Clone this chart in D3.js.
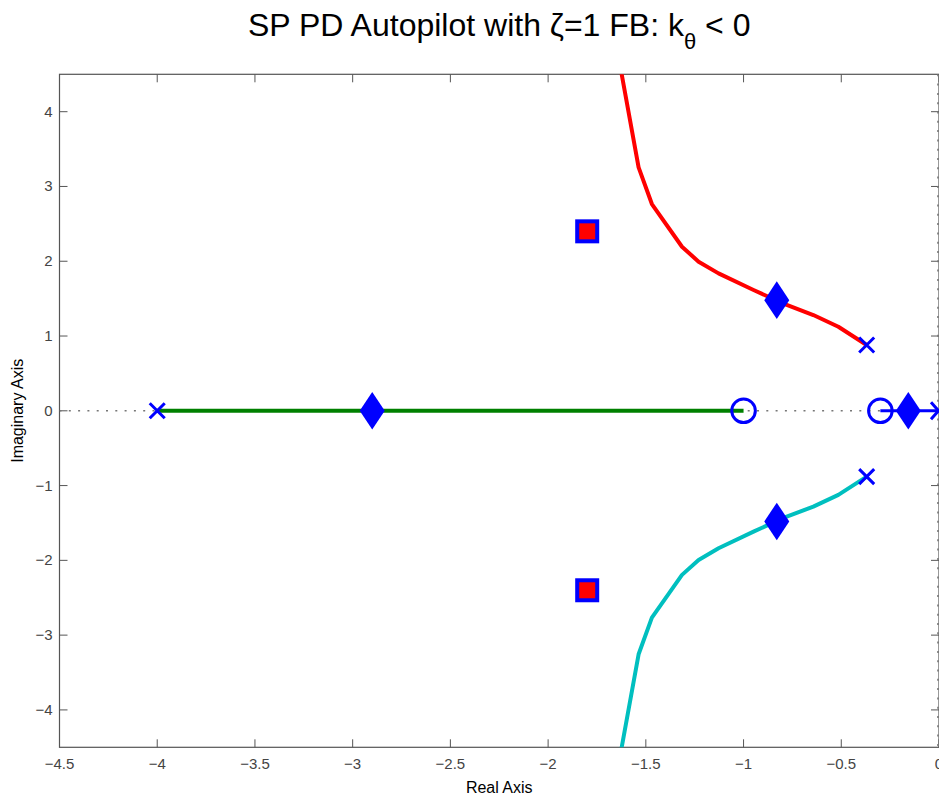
<!DOCTYPE html>
<html>
<head>
<meta charset="utf-8">
<script src="https://cdn.jsdelivr.net/npm/d3@7"></script>
<style>
  body { margin: 0; background: #fff; }
  svg { display: block; font-family: "Liberation Sans", Arial, Helvetica, sans-serif; }
</style>
</head>
<body>
<svg id="chart" width="939" height="796"></svg>
<script>
// tick values / labels
const xTicks = [-4.5, -4, -3.5, -3, -2.5, -2, -1.5, -1, -0.5, 0]
const xTickLabels = ['−4.5', '−4', '−3.5', '−3', '−2.5', '−2', '−1.5', '−1', '−0.5', '0']
const yTicks = [-4, -3, -2, -1, 0, 1, 2, 3, 4]
const yTickLabels = ['−4', '−3', '−2', '−1', '0', '1', '2', '3', '4']

// root locus branches [re, im]
const branchUpper = [[-0.37, 0.88], [-0.515, 1.124], [-0.643, 1.281], [-0.779, 1.415], [-0.949, 1.615],
  [-1.128, 1.838], [-1.23, 1.994], [-1.315, 2.194], [-1.469, 2.765], [-1.537, 3.256], [-1.70, 5.6]]
const branchLower = [[-0.37, -0.88], [-0.515, -1.124], [-0.643, -1.281], [-0.779, -1.415], [-0.949, -1.615],
  [-1.128, -1.838], [-1.23, -1.994], [-1.315, -2.194], [-1.469, -2.765], [-1.537, -3.256], [-1.70, -5.6]]
const branchReal = [[-4, 0], [-1, 0]]
const branchArrow = [[-0.3, 0], [0, 0]]

// markers
const poles = [[-4, 0], [-0.37, 0.88], [-0.37, -0.88]]
const zeros = [[-1, 0], [-0.3, 0]]
const gainPoints = [[-2.9, 0], [-0.83, 1.48], [-0.83, -1.48], [-0.157, 0]]
const closedLoop = [[-1.8, 2.4], [-1.8, -2.4]]

const svg = d3.select('#chart')
const plot = { left: 59.5, top: 74.3, right: 939, bottom: 747.3 }
const axisColor = '#555'
const textColor = '#444'

const x = d3.scaleLinear().domain([-4.5, 0]).range([plot.left, plot.right])
const y = d3.scaleLinear().domain([-4.5, 4.5]).range([plot.bottom, plot.top])

svg.append('defs').append('clipPath').attr('id', 'clip')
  .append('rect')
  .attr('x', plot.left).attr('y', plot.top)
  .attr('width', plot.right - plot.left).attr('height', plot.bottom - plot.top)

// box
svg.append('rect')
  .attr('x', plot.left).attr('y', plot.top)
  .attr('width', plot.right - plot.left).attr('height', plot.bottom - plot.top)
  .attr('fill', 'none').attr('stroke', axisColor).attr('stroke-width', 1.2)

// ticks (inward, all four sides)
const tickLen = 8
const tk = svg.append('g').attr('stroke', axisColor).attr('stroke-width', 1)
xTicks.forEach(v => {
  tk.append('line').attr('x1', x(v)).attr('x2', x(v)).attr('y1', plot.bottom).attr('y2', plot.bottom - tickLen)
  tk.append('line').attr('x1', x(v)).attr('x2', x(v)).attr('y1', plot.top).attr('y2', plot.top + tickLen)
})
yTicks.forEach(v => {
  tk.append('line').attr('y1', y(v)).attr('y2', y(v)).attr('x1', plot.left).attr('x2', plot.left + tickLen)
  tk.append('line').attr('y1', y(v)).attr('y2', y(v)).attr('x1', plot.right).attr('x2', plot.right - tickLen)
})

// tick labels
svg.append('g').selectAll('text').data(xTicks).join('text')
  .attr('x', d => x(d)).attr('y', plot.bottom + 22)
  .attr('text-anchor', 'middle').attr('font-size', 15).attr('fill', textColor)
  .text((d, i) => xTickLabels[i])
svg.append('g').selectAll('text').data(yTicks).join('text')
  .attr('x', plot.left - 7).attr('y', d => y(d) + 5)
  .attr('text-anchor', 'end').attr('font-size', 15).attr('fill', textColor)
  .text((d, i) => yTickLabels[i])

// axis titles
svg.append('text').attr('x', (plot.left + plot.right) / 2).attr('y', 793)
  .attr('text-anchor', 'middle').attr('font-size', 16).attr('fill', '#000').text('Real Axis')
svg.append('text').attr('transform', `translate(23,${(plot.top + plot.bottom) / 2}) rotate(-90)`)
  .attr('text-anchor', 'middle').attr('font-size', 16).attr('fill', '#000').text('Imaginary Axis')

// title
const title = svg.append('text').attr('x', (plot.left + plot.right) / 2).attr('y', 36)
  .attr('text-anchor', 'middle').attr('font-size', 32).attr('fill', '#000')
title.append('tspan').text('SP PD Autopilot with ζ=1 FB: k')
title.append('tspan').attr('font-size', 22).attr('dy', 13).text('θ')
title.append('tspan').attr('dy', -13).text(' < 0')

const g = svg.append('g').attr('clip-path', 'url(#clip)')

// dotted real / imaginary axes
g.append('line').attr('x1', plot.left).attr('x2', plot.right).attr('y1', y(0)).attr('y2', y(0))
  .attr('stroke', '#777').attr('stroke-width', 1.6).attr('stroke-dasharray', '2,7.3')
g.append('line').attr('x1', x(0) - 1).attr('x2', x(0) - 1).attr('y1', plot.top).attr('y2', plot.bottom)
  .attr('stroke', '#777').attr('stroke-width', 1.6).attr('stroke-dasharray', '2,7.3')

const line = d3.line().x(d => x(d[0])).y(d => y(d[1]))
g.append('path').attr('d', line(branchUpper)).attr('fill', 'none').attr('stroke', '#ff0000').attr('stroke-width', 4).attr('stroke-linejoin', 'round')
g.append('path').attr('d', line(branchLower)).attr('fill', 'none').attr('stroke', '#00bfbf').attr('stroke-width', 4).attr('stroke-linejoin', 'round')
g.append('path').attr('d', line(branchReal)).attr('fill', 'none').attr('stroke', '#008000').attr('stroke-width', 4)
g.append('path').attr('d', line(branchArrow)).attr('fill', 'none').attr('stroke', '#0000ff').attr('stroke-width', 3)

// arrow head at end of real-axis branch
const tip = branchArrow[branchArrow.length - 1]
svg.append('path')
  .attr('d', `M${x(tip[0]) - 8},${y(tip[1]) - 8.5}L${x(tip[0]) - 0.5},${y(tip[1])}L${x(tip[0]) - 8},${y(tip[1]) + 8.5}`)
  .attr('fill', 'none').attr('stroke', '#0000ff').attr('stroke-width', 3)

// poles (x)
svg.append('g').selectAll('path').data(poles).join('path')
  .attr('d', d => {
    const cx = x(d[0]), cy = y(d[1]), s = 7.5
    return `M${cx - s},${cy - s}L${cx + s},${cy + s}M${cx - s},${cy + s}L${cx + s},${cy - s}`
  })
  .attr('stroke', '#0000ff').attr('stroke-width', 3).attr('fill', 'none')

// zeros (o)
svg.append('g').selectAll('circle').data(zeros).join('circle')
  .attr('cx', d => x(d[0])).attr('cy', d => y(d[1])).attr('r', 11.8)
  .attr('fill', 'none').attr('stroke', '#0000ff').attr('stroke-width', 3)

// gain points (diamonds)
svg.append('g').selectAll('path').data(gainPoints).join('path')
  .attr('d', d => {
    const cx = x(d[0]), cy = y(d[1]), w = 12.5, h = 18.8
    return `M${cx},${cy - h}L${cx + w},${cy}L${cx},${cy + h}L${cx - w},${cy}Z`
  })
  .attr('fill', '#0000ff')

// closed-loop poles (squares)
svg.append('g').selectAll('rect').data(closedLoop).join('rect')
  .attr('x', d => x(d[0]) - 10).attr('y', d => y(d[1]) - 10)
  .attr('width', 20).attr('height', 20)
  .attr('fill', '#ff0000').attr('stroke', '#0000ff').attr('stroke-width', 4)
</script>
</body>
</html>
